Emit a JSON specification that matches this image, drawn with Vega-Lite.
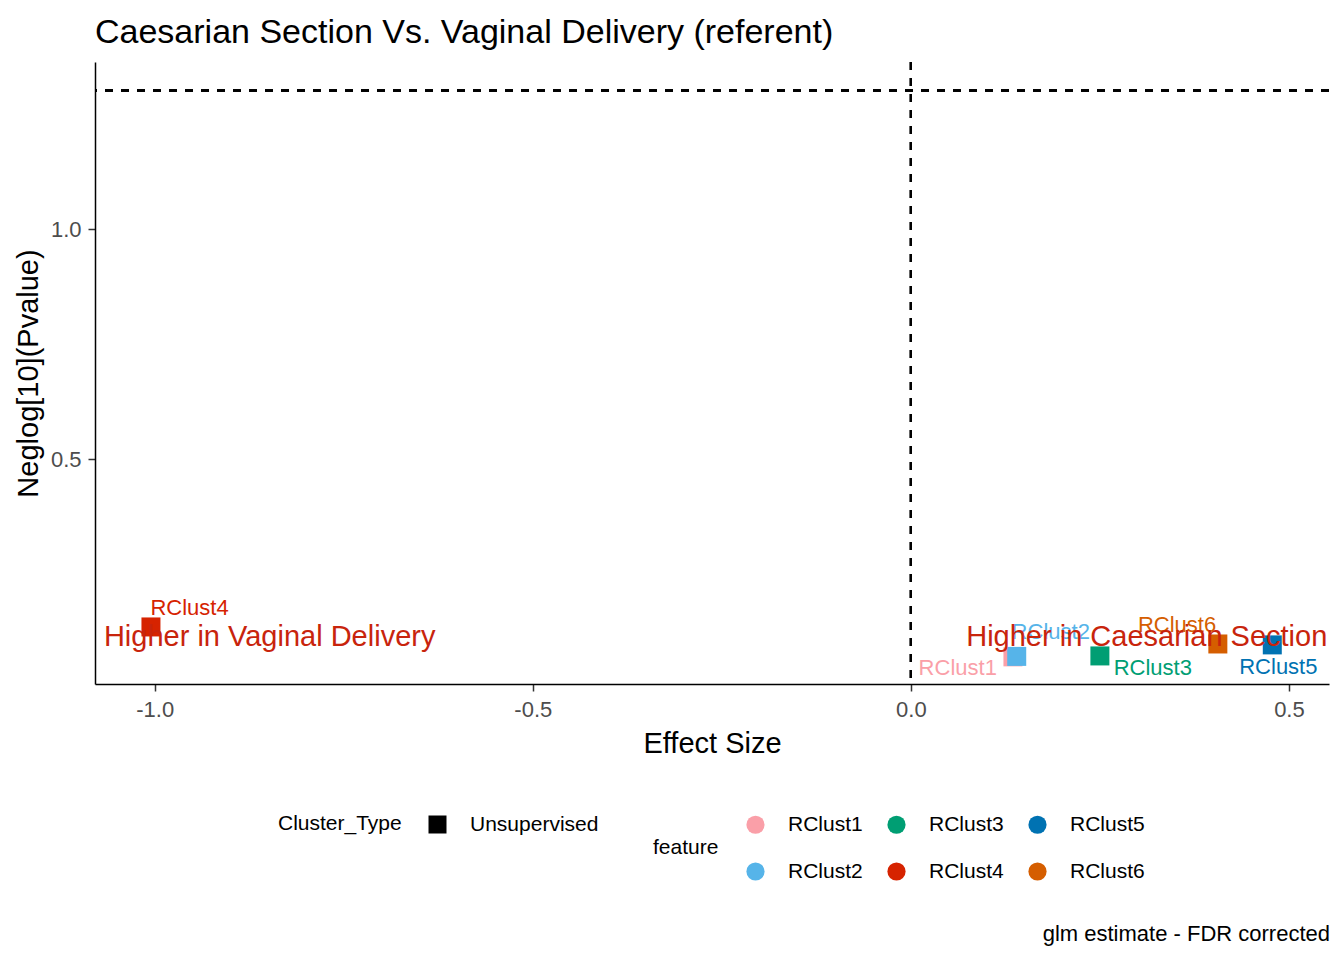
{
  "$schema": "https://vega.github.io/schema/vega-lite/v6.json",
  "autosize": {"type": "pad"},
  "padding": {"left": 14, "top": 16, "right": 15, "bottom": 10},
  "background": "white",
  "title": {
    "text": "glm estimate - FDR corrected",
    "orient": "bottom",
    "anchor": "end",
    "frame": "bounds",
    "font": "Liberation Sans",
    "fontSize": 22,
    "fontWeight": "normal",
    "color": "black",
    "offset": 42
  },
  "datasets": {
    "points": [
      {"feature": "RClust1", "Cluster_Type": "Unsupervised", "effect": 0.135, "neglogp": 0.070, "label_x": 0.062, "label_y": 0.045},
      {"feature": "RClust2", "Cluster_Type": "Unsupervised", "effect": 0.140, "neglogp": 0.071, "label_x": 0.185, "label_y": 0.125},
      {"feature": "RClust3", "Cluster_Type": "Unsupervised", "effect": 0.250, "neglogp": 0.072, "label_x": 0.320, "label_y": 0.045},
      {"feature": "RClust4", "Cluster_Type": "Unsupervised", "effect": -1.005, "neglogp": 0.135, "label_x": -0.954, "label_y": 0.176},
      {"feature": "RClust5", "Cluster_Type": "Unsupervised", "effect": 0.478, "neglogp": 0.096, "label_x": 0.486, "label_y": 0.049},
      {"feature": "RClust6", "Cluster_Type": "Unsupervised", "effect": 0.406, "neglogp": 0.098, "label_x": 0.352, "label_y": 0.140}
    ],
    "notes": [
      {"note": "Higher in Vaginal Delivery", "nx": -0.848, "ny": 0.113},
      {"note": "Higher in Caesarian Section", "nx": 0.312, "ny": 0.113}
    ]
  },
  "resolve": {
    "scale": {"color": "independent", "shape": "independent"},
    "legend": {"color": "independent", "shape": "independent"}
  },
  "vconcat": [
    {
      "width": 1234,
      "height": 622,
      "title": {
        "text": "Caesarian Section Vs. Vaginal Delivery (referent)",
        "anchor": "start",
        "frame": "group",
        "font": "Liberation Sans",
        "fontSize": 34,
        "fontWeight": "normal",
        "color": "black",
        "offset": 11
      },
      "layer": [
        {
          "data": {"name": "points"},
          "mark": {"type": "rule", "strokeDash": [8, 8], "strokeWidth": 2, "color": "black"},
          "encoding": {"y": {"datum": 1.30103, "type": "quantitative"}}
        },
        {
          "data": {"name": "points"},
          "mark": {"type": "rule", "strokeDash": [8, 8], "strokeWidth": 2, "color": "black"},
          "encoding": {"x": {"datum": 0, "type": "quantitative"}}
        },
        {
          "data": {"name": "points"},
          "mark": {"type": "point", "filled": true, "opacity": 1, "size": 361},
          "encoding": {
            "x": {
              "field": "effect", "type": "quantitative",
              "scale": {"domain": [-1.079, 0.553], "nice": false, "zero": false},
              "axis": {"title": "Effect Size", "values": [-1, -0.5, 0, 0.5], "format": ".1f", "labelExpr": "replace(datum.label, '\u2212', '-')", "labelPadding": 8, "titlePadding": 9}
            },
            "y": {
              "field": "neglogp", "type": "quantitative",
              "scale": {"domain": [0.011, 1.363], "nice": false, "zero": false},
              "axis": {"title": "Neglog[10](Pvalue)", "values": [0.5, 1.0], "format": ".1f", "labelPadding": 7, "titlePadding": 7}
            },
            "color": {
              "field": "feature", "type": "nominal",
              "scale": {
                "domain": ["RClust1", "RClust2", "RClust3", "RClust4", "RClust5", "RClust6"],
                "range": ["#FA9FA8", "#56B4E9", "#009E73", "#D62300", "#0072B2", "#D55E00"]
              },
              "legend": {
                "title": "feature",
                "orient": "none",
                "legendX": 558,
                "legendY": 752,
                "columns": 3,
                "symbolType": "circle",
                "symbolSize": 330,
                "symbolStrokeWidth": 0,
                "labelOffset": 22,
                "columnPadding": 23,
                "rowPadding": 25,
                "titleOrient": "left",
                "titleAnchor": "middle",
                "titleBaseline": "middle",
                "titlePadding": 26
              }
            },
            "shape": {
              "field": "Cluster_Type", "type": "nominal",
              "scale": {"domain": ["Unsupervised"], "range": ["square"]},
              "legend": {
                "title": "Cluster_Type",
                "orient": "none",
                "legendX": 183,
                "legendY": 752,
                "symbolFillColor": "black",
                "symbolStrokeColor": "black",
                "symbolStrokeWidth": 0,
                "symbolSize": 324,
                "labelOffset": 22,
                "titleOrient": "left",
                "titleAnchor": "middle",
                "titleBaseline": "middle",
                "titlePadding": 25
              }
            }
          }
        },
        {
          "data": {"name": "points"},
          "mark": {"type": "text", "fontSize": 22, "font": "Liberation Sans", "align": "center", "baseline": "middle"},
          "encoding": {
            "x": {"field": "label_x", "type": "quantitative"},
            "y": {"field": "label_y", "type": "quantitative"},
            "text": {"field": "feature"},
            "color": {"field": "feature", "type": "nominal", "legend": null}
          }
        },
        {
          "data": {"name": "notes"},
          "mark": {"type": "text", "fontSize": 29, "font": "Liberation Sans", "align": "center", "baseline": "middle", "color": "#C8240C"},
          "encoding": {
            "x": {"field": "nx", "type": "quantitative"},
            "y": {"field": "ny", "type": "quantitative"},
            "text": {"field": "note"}
          }
        }
      ]
    }
  ],
  "config": {
    "font": "Liberation Sans",
    "view": {"stroke": null},
    "axis": {
      "grid": false,
      "domainColor": "black",
      "domainWidth": 1.5,
      "tickColor": "#333333",
      "tickWidth": 1.5,
      "tickSize": 7,
      "labelColor": "#4D4D4D",
      "labelFont": "Liberation Sans",
      "labelFontSize": 22,
      "titleFont": "Liberation Sans",
      "titleFontSize": 29,
      "titleFontWeight": "normal",
      "titleColor": "black"
    },
    "legend": {
      "labelFont": "Liberation Sans",
      "labelFontSize": 21,
      "labelColor": "black",
      "titleFont": "Liberation Sans",
      "titleFontSize": 21,
      "titleFontWeight": "normal",
      "titleColor": "black"
    }
  }
}
